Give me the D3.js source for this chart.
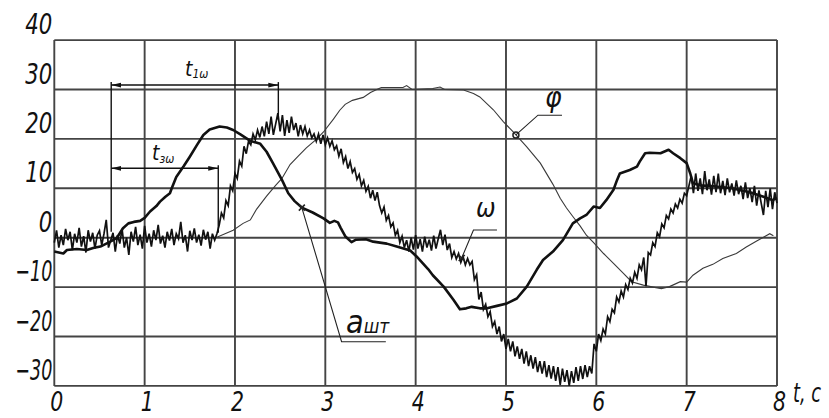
<!DOCTYPE html>
<html>
<head>
<meta charset="utf-8">
<script src="https://cdn.jsdelivr.net/npm/d3@7"></script>
<style>
  html, body { margin: 0; padding: 0; background: #fff; }
  svg { display: block; }
  .lbl { font-family: "Liberation Sans Narrow", "DejaVu Sans Condensed", "Liberation Sans", sans-serif; font-style: italic; fill: #111; }
</style>
</head>
<body>
<script>
// Axis ticks
const xTicks = [0, 1, 2, 3, 4, 5, 6, 7, 8];
const yTicks = [-30, -20, -10, 0, 10, 20, 30, 40];
const xAxisTitle = "t, с";

// Thick smooth curve a_шт : [t (s), value]
const aSht = [
  [0.00,-2.8],[0.10,-3.2],[0.14,-2.5],[0.25,-2.3],[0.36,-2.5],[0.43,-2.1],[0.51,-1.8],[0.62,-0.8],[0.69,-0.1],
  [0.76,1.9],[0.82,2.9],[0.88,3.2],[0.95,3.4],[1.00,4.0],[1.06,5.3],[1.13,6.4],[1.17,7.3],[1.23,8.3],[1.28,9.0],
  [1.30,10.0],[1.35,12.3],[1.43,14.4],[1.50,16.4],[1.58,18.8],[1.65,20.8],[1.72,21.9],[1.83,22.5],[1.91,22.3],
  [1.98,21.8],[2.06,20.9],[2.17,19.6],[2.28,19.0],[2.35,17.4],[2.42,15.1],[2.52,11.7],[2.59,9.0],[2.66,7.4],
  [2.74,6.1],[2.86,5.1],[2.98,3.9],[3.05,3.0],[3.10,3.4],[3.14,3.1],[3.17,2.0],[3.22,0.3],[3.29,-0.9],[3.34,-0.4],
  [3.45,-0.3],[3.53,-0.8],[3.68,-1.2],[3.79,-1.8],[3.94,-2.6],[4.01,-3.8],[4.08,-5.2],[4.14,-6.4],[4.19,-7.6],
  [4.31,-9.9],[4.42,-12.6],[4.49,-14.5],[4.56,-14.3],[4.62,-14.0],[4.71,-14.3],[4.79,-14.3],[4.90,-13.8],
  [5.01,-13.3],[5.12,-12.3],[5.23,-9.9],[5.34,-6.5],[5.41,-4.5],[5.52,-2.8],[5.63,-0.5],[5.74,2.9],[5.82,3.9],
  [5.89,4.6],[5.97,6.3],[6.04,6.0],[6.11,7.6],[6.19,9.7],[6.23,11.7],[6.26,13.0],[6.37,13.7],[6.45,14.4],
  [6.48,15.4],[6.54,17.1],[6.59,17.2],[6.71,17.1],[6.80,17.8],[6.85,17.1],[6.93,16.1],[7.00,15.1],[7.04,13.0],
  [7.07,11.0],[7.15,10.6],[7.30,10.4],[7.50,10.0],[7.70,9.2],[7.85,8.3],[7.95,7.6],[8.00,8.0]
];

// Thin curve φ : [t (s), value]
const phi = [
  [0.00,0.0],[1.80,0.1],[1.98,1.5],[2.09,2.9],[2.17,3.6],[2.24,5.8],[2.35,8.4],[2.45,10.6],[2.52,12.0],
  [2.61,14.8],[2.70,16.5],[2.79,18.2],[2.90,19.9],[2.98,21.4],[3.09,24.0],[3.16,25.8],[3.22,27.0],[3.30,27.8],
  [3.42,28.4],[3.50,29.4],[3.57,30.0],[3.62,30.4],[3.86,30.4],[3.90,30.8],[3.96,30.0],[4.19,30.2],[4.27,30.5],
  [4.32,30.0],[4.53,29.9],[4.64,29.2],[4.71,28.5],[4.86,25.9],[4.97,23.5],[5.08,21.4],[5.23,18.4],[5.38,15.1],
  [5.52,10.8],[5.60,8.0],[5.67,6.0],[5.74,4.3],[5.82,2.4],[5.89,0.5],[5.97,-1.0],[6.08,-3.2],[6.19,-5.2],
  [6.30,-7.2],[6.39,-8.9],[6.52,-9.6],[6.63,-10.0],[6.72,-10.3],[6.81,-9.9],[6.93,-8.9],[7.00,-9.0],[7.07,-7.6],
  [7.18,-6.2],[7.29,-5.4],[7.40,-4.2],[7.55,-3.2],[7.66,-1.9],[7.78,-0.6],[7.85,0.1],[7.92,0.8],[7.96,0.4]
];

// Noisy curve ω : [t (s), value]
const omega = [
  [0.000,-1.0],[0.025,1.5],[0.050,-2.0],[0.075,0.5],[0.100,-1.5],[0.125,1.8],[0.150,-0.5],[0.175,1.2],[0.200,-2.5],[0.225,0.8],
  [0.250,-1.0],[0.275,2.0],[0.300,-1.8],[0.325,0.3],[0.350,-3.0],[0.375,1.5],[0.400,-0.8],[0.425,1.0],[0.450,-2.2],[0.475,0.5],
  [0.500,1.4],[0.525,-1.5],[0.550,0.8],[0.575,3.6],[0.600,-2.0],[0.625,-0.5],[0.650,1.0],[0.675,-2.8],[0.700,0.5],[0.725,-1.2],
  [0.750,1.8],[0.775,-2.0],[0.800,0.0],[0.825,-3.5],[0.850,1.2],[0.875,-0.8],[0.900,2.2],[0.925,-1.5],[0.950,0.6],[0.975,-2.2],
  [1.000,2.4],[1.025,-1.0],[1.050,0.8],[1.075,-1.8],[1.100,1.5],[1.125,-0.5],[1.150,2.6],[1.175,-1.2],[1.200,0.4],[1.225,-2.0],
  [1.250,1.2],[1.275,-0.6],[1.300,1.8],[1.325,-1.5],[1.350,0.8],[1.375,-0.2],[1.400,3.2],[1.425,-1.0],[1.450,0.5],[1.475,-2.8],
  [1.500,1.4],[1.525,-0.5],[1.550,1.9],[1.575,-1.0],[1.600,0.6],[1.625,-1.6],[1.650,1.6],[1.675,-0.4],[1.700,1.2],[1.725,-2.2],
  [1.750,0.8],[1.775,-0.5],[1.800,0.8],
  [1.825,2.5],[1.850,5.0],[1.875,4.0],[1.900,7.5],[1.925,6.5],[1.950,10.5],[1.975,9.5],[2.000,13.0],[2.025,12.0],[2.050,15.5],
  [2.075,14.5],[2.100,18.5],[2.125,17.0],[2.150,19.5],[2.175,18.8],[2.200,21.0],[2.225,19.8],[2.250,21.8],[2.275,20.3],[2.300,22.5],
  [2.325,20.5],[2.350,23.5],[2.375,21.0],[2.400,24.5],[2.425,20.8],[2.450,23.0],[2.475,25.2],[2.500,21.5],[2.525,24.8],[2.550,20.6],
  [2.575,23.8],[2.600,21.2],[2.625,24.5],[2.650,21.8],[2.675,23.2],[2.700,20.5],[2.725,22.8],[2.750,21.0],[2.775,22.5],[2.800,20.6],
  [2.825,21.8],[2.850,20.2],[2.875,21.0],[2.900,19.5],
  [2.925,21.0],[2.950,19.0],[2.975,20.8],[3.000,18.8],[3.025,20.2],[3.050,18.5],[3.075,19.6],[3.100,17.8],[3.125,18.6],[3.150,16.5],
  [3.175,18.0],[3.200,15.2],[3.225,16.4],[3.250,14.0],[3.275,15.4],[3.300,13.2],[3.325,14.0],[3.350,11.8],[3.375,12.8],[3.400,10.5],
  [3.425,11.6],[3.450,9.4],[3.475,10.4],[3.500,8.0],[3.525,9.6],[3.550,7.5],[3.575,9.2],[3.600,6.5],[3.625,5.0],[3.650,6.2],
  [3.675,3.5],[3.700,4.5],[3.725,2.2],[3.750,3.0],[3.775,0.5],[3.800,1.5],
  [3.825,-1.0],[3.850,0.3],[3.875,-2.0],[3.900,-0.5],[3.925,-2.8],[3.950,0.0],[3.975,-2.4],[4.000,0.5],[4.025,-2.2],[4.050,-0.3],
  [4.075,-2.8],[4.100,0.2],[4.125,-2.0],[4.150,-0.4],[4.175,-2.6],[4.200,0.4],[4.225,-2.2],[4.250,-0.2],[4.275,1.6],[4.300,-1.5],
  [4.325,0.6],[4.350,-2.5],[4.375,-1.2],[4.400,-4.0],[4.425,-2.8],[4.450,-4.3],[4.475,-3.2],[4.500,-5.0],[4.525,-3.8],[4.550,-5.5],
  [4.575,-4.2],[4.600,-5.5],[4.625,-4.8],[4.650,-8.5],[4.675,-7.5],[4.700,-12.5],[4.725,-11.0],[4.750,-14.5],[4.775,-13.5],[4.800,-16.0],
  [4.825,-15.0],[4.850,-18.0],[4.875,-17.0],[4.900,-19.5],[4.925,-18.0],[4.950,-21.0],[4.975,-19.5],[5.000,-22.5],[5.025,-20.5],[5.050,-23.0],
  [5.075,-21.0],[5.100,-24.0],[5.125,-22.0],[5.150,-24.5],[5.175,-22.5],[5.200,-25.5],[5.225,-23.0],[5.250,-26.0],[5.275,-23.8],[5.300,-26.5],
  [5.325,-24.2],[5.350,-27.2],[5.375,-25.0],[5.400,-27.5],[5.425,-25.0],[5.450,-28.2],[5.475,-25.8],[5.500,-28.5],[5.525,-26.0],[5.550,-29.0],
  [5.575,-26.2],[5.600,-29.8],[5.625,-26.5],[5.650,-29.2],[5.675,-26.8],[5.700,-30.0],[5.725,-27.0],[5.750,-29.4],[5.775,-26.2],[5.800,-29.0],
  [5.825,-26.0],[5.850,-28.6],[5.875,-25.8],[5.900,-28.2],[5.925,-26.0],[5.950,-27.5],[5.975,-21.5],[6.000,-23.0],[6.025,-19.5],[6.050,-20.8],
  [6.075,-18.5],[6.100,-19.5],[6.125,-16.0],[6.150,-17.0],[6.175,-14.5],[6.200,-15.2],[6.225,-12.0],[6.250,-13.0],[6.275,-10.8],[6.300,-12.0],
  [6.325,-9.5],[6.350,-10.5],[6.375,-8.2],[6.400,-9.2],[6.425,-7.0],[6.450,-8.2],[6.475,-5.5],[6.500,-6.5],[6.525,-4.0],[6.550,-9.8],
  [6.575,-3.0],[6.600,-3.5],[6.625,-1.0],[6.650,-1.8],[6.675,1.0],[6.700,0.2],[6.725,2.8],[6.750,2.0],[6.775,4.5],[6.800,3.8],
  [6.825,5.8],[6.850,5.0],[6.875,6.8],[6.900,6.0],[6.925,7.8],[6.950,7.0],[6.975,9.0],[7.000,8.5],[7.025,10.5],
  [7.050,12.5],[7.075,9.0],[7.100,13.0],[7.125,9.5],[7.150,12.0],[7.175,8.8],[7.200,13.5],[7.225,9.6],[7.250,11.8],[7.275,8.7],
  [7.300,12.5],[7.325,9.2],[7.350,13.0],[7.375,9.0],[7.400,11.5],[7.425,8.6],[7.450,12.0],[7.475,9.2],[7.500,11.0],[7.525,8.5],
  [7.550,11.6],[7.575,8.8],[7.600,10.5],[7.625,7.8],[7.650,11.2],[7.675,8.0],[7.700,10.0],[7.725,7.2],[7.750,10.5],[7.775,6.5],
  [7.800,9.6],[7.825,7.0],[7.850,4.6],[7.875,9.5],[7.900,6.2],[7.925,10.0],[7.950,5.8],[7.975,9.2],[8.000,7.0]
];

// Leader anchors on the curves [t, value]
const aShtMark = [2.74, 6.1];
const phiMark = [5.11, 20.8];
const omegaMark = [4.51, -4.1];

// Time intervals t_1ω and t_зω: [start, end] in s, drawn at the given level
const t1w = { from: 0.63, to: 2.48, level: 30.9 };
const t3w = { from: 0.63, to: 1.815, level: 14.05 };

const W = 829, H = 418;
const x = d3.scaleLinear().domain([0, 8]).range([54.3, 777]);
const y = d3.scaleLinear().domain([-30, 40]).range([385.9, 40.1]);

// narrow drafting-style lettering: squeeze each label to a fixed advance per glyph
function narrow(sel, perChar, minusW) {
  sel.each(function () {
    const s = this.textContent;
    let w = 0;
    for (const ch of s) w += (ch === "−" || ch === "-") ? minusW : (ch === " " ? 4 : (ch === "," ? 5 : perChar));
    d3.select(this).attr("textLength", w).attr("lengthAdjust", "spacingAndGlyphs");
  });
}

const svg = d3.select("body").append("svg").attr("width", W).attr("height", H);
svg.append("rect").attr("width", W).attr("height", H).attr("fill", "#fff");

const defs = svg.append("defs");
defs.append("marker").attr("id", "arr")
  .attr("viewBox", "0 0 10 6").attr("refX", 10).attr("refY", 3)
  .attr("markerWidth", 10).attr("markerHeight", 6).attr("markerUnits", "userSpaceOnUse")
  .attr("orient", "auto-start-reverse")
  .append("path").attr("d", "M0,0.6 L10,3 L0,5.4 Z").attr("fill", "#111");

// Grid
const grid = svg.append("g").attr("stroke", "#444").attr("stroke-width", 1.9);
grid.selectAll("line.v").data(xTicks).join("line").attr("class", "v")
  .attr("x1", d => x(d)).attr("x2", d => x(d)).attr("y1", y(40)).attr("y2", y(-30));
grid.selectAll("line.h").data(yTicks).join("line").attr("class", "h")
  .attr("x1", x(0)).attr("x2", x(8)).attr("y1", d => y(d)).attr("y2", d => y(d));

// Axes labels
const xAxis = svg.append("g").attr("transform", `translate(0,${y(-30)})`)
  .call(d3.axisBottom(x).tickValues(xTicks).tickSize(0).tickPadding(6).tickFormat(d3.format("d")));
xAxis.select(".domain").remove();
xAxis.selectAll("text").attr("class", "lbl").attr("font-size", 27).attr("fill", "#111")
  .attr("dx", 2).call(narrow, 13, 10);

const yAxis = svg.append("g").attr("transform", `translate(${x(0)},0)`)
  .call(d3.axisLeft(y).tickValues(yTicks).tickSize(0).tickPadding(2).tickFormat(d3.format("d")));
yAxis.select(".domain").remove();
yAxis.selectAll("text").attr("class", "lbl").attr("font-size", 28).attr("fill", "#111")
  .attr("dy", 0).attr("y", -6.5).call(narrow, 13.5, 10);

svg.append("text").attr("class", "lbl").attr("font-size", 26)
  .attr("x", 793).attr("y", 402).text(xAxisTitle).call(narrow, 9.5, 10);

// Curves
const line = d3.line().x(d => x(d[0])).y(d => y(d[1]));
svg.append("path").datum(phi).attr("d", line)
  .attr("fill", "none").attr("stroke", "#3a3a3a").attr("stroke-width", 1.1);
svg.append("path").datum(omega).attr("d", line)
  .attr("fill", "none").attr("stroke", "#111").attr("stroke-width", 1.7).attr("stroke-linejoin", "miter");
svg.append("path").datum(aSht).attr("d", line)
  .attr("fill", "none").attr("stroke", "#111").attr("stroke-width", 2.6).attr("stroke-linejoin", "round");

// Interval dimensions with extension lines
const dim = svg.append("g").attr("stroke", "#111").attr("fill", "none");
function dimension(iv) {
  dim.append("line").attr("x1", x(iv.from)).attr("x2", x(iv.to))
    .attr("y1", y(iv.level)).attr("y2", y(iv.level)).attr("stroke-width", 1.6)
    .attr("marker-start", "url(#arr)").attr("marker-end", "url(#arr)");
}
dimension(t1w);
dimension(t3w);
dim.append("line").attr("x1", x(t1w.from)).attr("x2", x(t1w.from))
  .attr("y1", y(t1w.level + 0.6)).attr("y2", y(1.2)).attr("stroke-width", 1.4);
dim.append("line").attr("x1", x(t1w.to)).attr("x2", x(t1w.to))
  .attr("y1", y(t1w.level + 0.6)).attr("y2", y(23.8)).attr("stroke-width", 1.4);
dim.append("line").attr("x1", x(t3w.to)).attr("x2", x(t3w.to))
  .attr("y1", y(t3w.level + 0.6)).attr("y2", y(1.0)).attr("stroke-width", 1.4);

function subLabel(px, py, main, sub, mainSize, subSize, subDy) {
  const t = svg.append("text").attr("class", "lbl").attr("x", px).attr("y", py);
  t.append("tspan").attr("font-size", mainSize).text(main);
  t.append("tspan").attr("font-size", subSize).attr("dy", subDy).text(sub);
  return t;
}
subLabel(185, 76, "t", "1ω", 21, 12, 2);
subLabel(152, 160, "t", "зω", 21, 12, 3);

// Leaders
const lead = svg.append("g").attr("stroke", "#222").attr("fill", "none").attr("stroke-width", 1.1);
const pts = arr => arr.map(p => [x(p[0]), y(p[1])].join(",")).join(" ");
lead.append("polyline").attr("points", pts([phiMark, [5.354, 24.8], [5.62, 24.8]]));
lead.append("circle").attr("cx", x(phiMark[0])).attr("cy", y(phiMark[1])).attr("r", 3).attr("stroke-width", 1.5);
lead.append("polyline").attr("points", pts([omegaMark, [4.64, 1.56], [4.90, 1.56]]));
lead.append("polyline").attr("points", pts([aShtMark, [3.18, -21.05], [3.67, -21.05]]));
[aShtMark, omegaMark].forEach(m => {
  const cx = x(m[0]), cy = y(m[1]);
  lead.append("path").attr("d", `M${cx-3},${cy-3}L${cx+3},${cy+3}M${cx-3},${cy+3}L${cx+3},${cy-3}`).attr("stroke-width", 1.6);
});

svg.append("text").attr("class", "lbl").attr("font-size", 28).attr("x", 545).attr("y", 107).text("φ");
svg.append("text").attr("class", "lbl").attr("font-size", 26).attr("x", 476).attr("y", 217).text("ω");
subLabel(346, 333, "a", "шт", 32, 19, 0);
</script>
</body>
</html>
